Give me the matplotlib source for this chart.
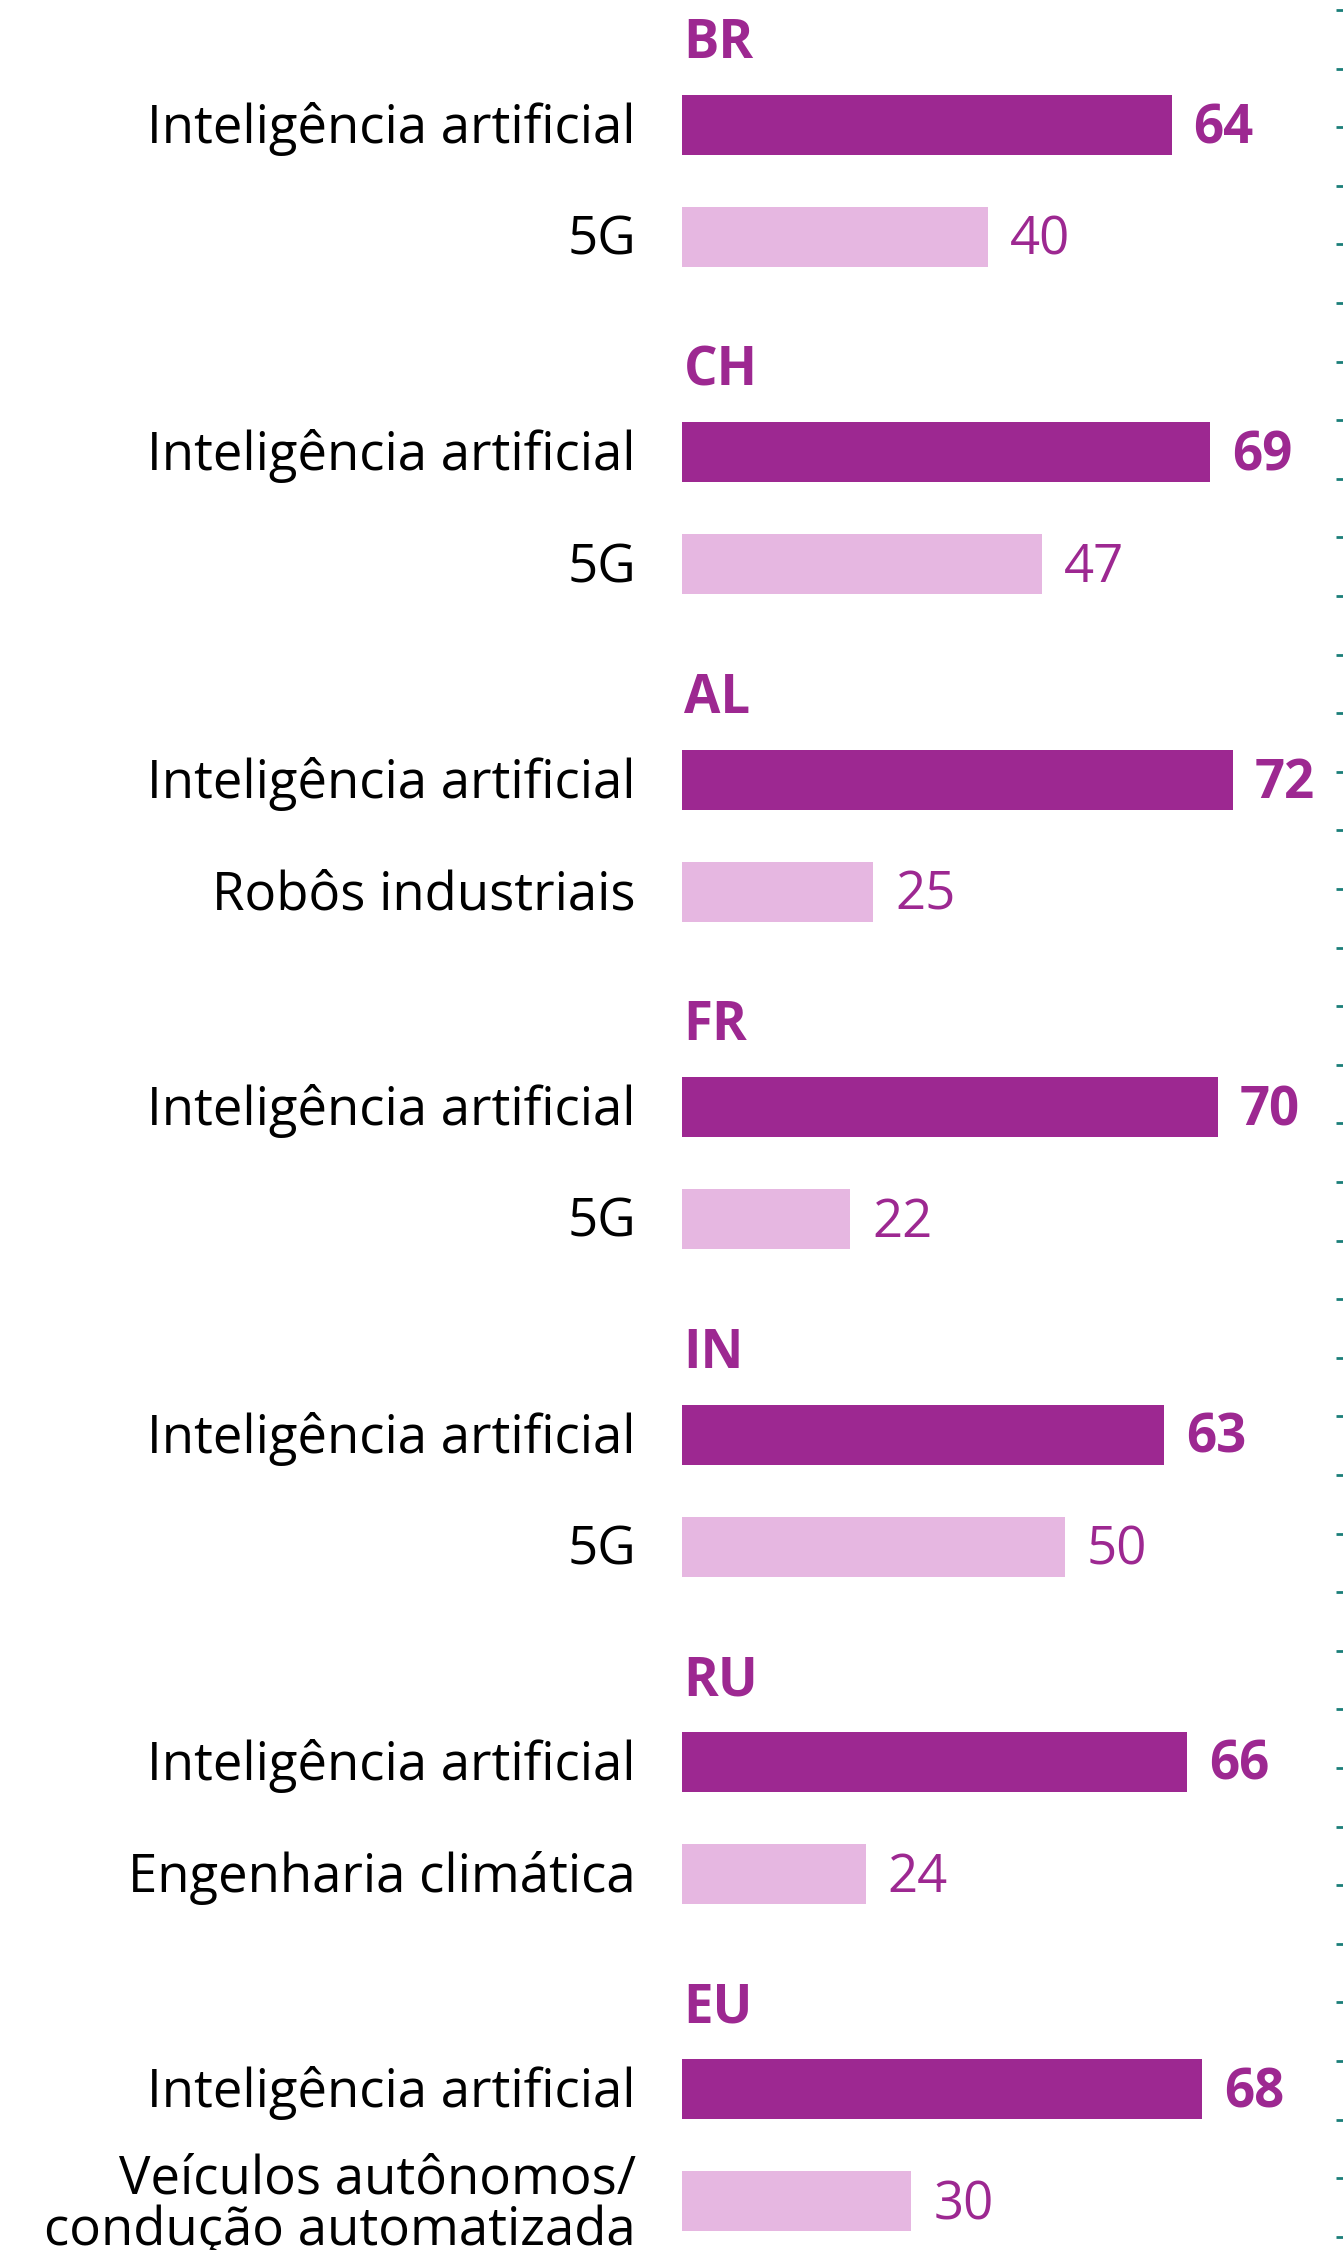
import numpy as np
import matplotlib.pyplot as plt

# -----------------------------
# Data
# -----------------------------
regions = ["BR", "CH", "AL", "FR", "IN", "RU", "EU"]
top_labels = ["Inteligência artificial"] * 7
top_values = [64, 69, 72, 70, 63, 66, 68]
second_labels = ["5G", "5G", "Robôs industriais", "5G", "5G",
                 "Engenharia climática", "Veículos autônomos/\ncondução automatizada"]
second_values = [40, 47, 25, 22, 50, 24, 30]

# -----------------------------
# Style
# -----------------------------
dark = "#9d2891"
light = "#e6b7e1"
teal = "#1b7e79"
plt.rcParams["font.family"] = ["Open Sans", "DejaVu Sans"]
fs = 38

W, H = 1343, 2250
fig = plt.figure(figsize=(W / 100, H / 100), dpi=100)
ax = fig.add_axes([0, 0, 1, 1])

ppu = 7.65          # pixels per unit
x0 = 682            # bar start pixel
ax.set_xlim(-x0 / ppu, (W - x0) / ppu)
ax.set_ylim(H, 0)
ax.axis("off")

group_step = 327.4
label_y = 39 + group_step * np.arange(len(regions))
dark_y = label_y + 86
light_y = dark_y + 112
bar_h = 60

ax.barh(dark_y, top_values, height=bar_h, color=dark, left=0)
ax.barh(light_y, second_values, height=bar_h, color=light, left=0)

label_x = -(x0 - 636) / ppu
gap = 22 / ppu
for i in range(len(regions)):
    ax.text(0.2, label_y[i] + 5, regions[i], color=dark, fontsize=fs,
            fontweight="bold", ha="left", va="center")
    ax.text(label_x, dark_y[i] + 4, top_labels[i], color="black", fontsize=fs,
            ha="right", va="center")
    ax.text(label_x, light_y[i] + 4, second_labels[i], color="black", fontsize=fs,
            ha="right", va="center", linespacing=0.95)
    ax.text(top_values[i] + gap, dark_y[i] + 4, str(top_values[i]), color=dark,
            fontsize=fs, fontweight="bold", ha="left", va="center")
    ax.text(second_values[i] + gap, light_y[i] + 4, str(second_values[i]), color=dark,
            fontsize=fs, ha="left", va="center")

# decorative dashes along the right edge
tick_y = np.arange(10, H, 58.6)
ax.hlines(tick_y, 1336 / W, 1.0, color=teal, linewidth=2,
          transform=ax.get_yaxis_transform())

fig.savefig("out.png", dpi=100)
